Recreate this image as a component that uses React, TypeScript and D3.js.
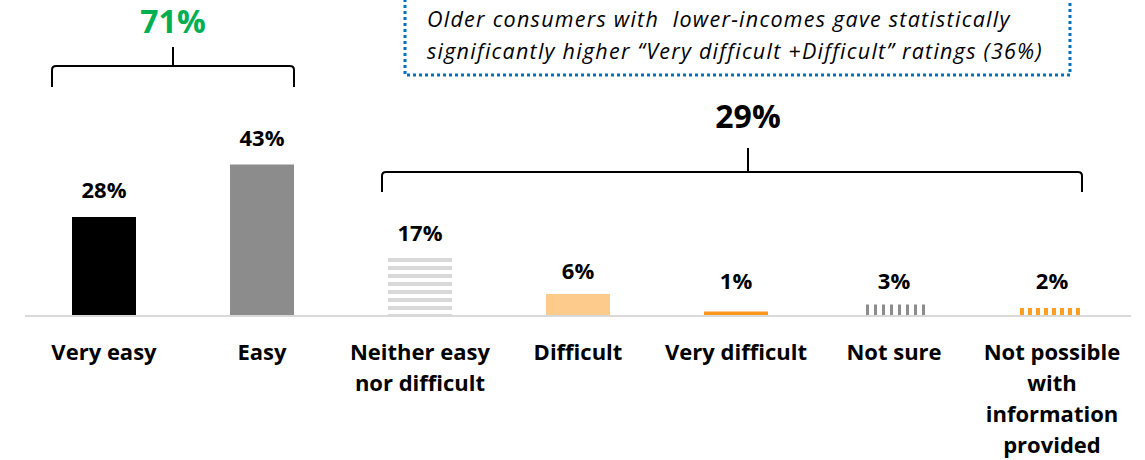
import { useMemo } from "react";
import * as d3 from "d3";

const categories = [
	"Very easy",
	"Easy",
	"Neither easy nor difficult",
	"Difficult",
	"Very difficult",
	"Not sure",
	"Not possible with information provided",
];
const categoryLines = [
	["Very easy"],
	["Easy"],
	["Neither easy", "nor difficult"],
	["Difficult"],
	["Very difficult"],
	["Not sure"],
	["Not possible", "with", "information", "provided"],
];
const values = [28, 43, 17, 6, 1, 3, 2];
const fills = [
	"#000000",
	"#8c8c8c",
	"url(#hstripe)",
	"#fdcb8c",
	"#f7981d",
	"url(#vstripeGray)",
	"url(#vstripeOrange)",
];
const groupLabels = ["71%", "29%"];
const groupFirst = [0, 2];
const groupLast = [1, 6];
const groupColors = ["#00b050", "#000000"];
const noteLines = [
	"Older consumers with  lower-incomes gave statistically",
	"significantly higher \u201cVery difficult +Difficult\u201d ratings (36%)",
];

const W = 1145;
const H = 460;
const FONT = "'Open Sans', Lato, sans-serif";

export default function App() {
	const x = useMemo(
		() =>
			d3
				.scaleBand<string>()
				.domain(categories)
				.range([25, 1131])
				.paddingInner(0.595)
				.paddingOuter(0.2975),
		[]
	);
	const y = useMemo(
		() => d3.scaleLinear().domain([0, 45]).range([315, 157.5]),
		[]
	);
	const bw = x.bandwidth();

	// bracket layout
	const brackets = [
		{ padL: 20, padR: 0, yLine: 66, drop: 21, stemTop: 47, stemDx: 0, labelY: 33 },
		{ padL: 6, padR: -2, yLine: 172, drop: 20, stemTop: 148, stemDx: 16, labelY: 128 },
	];

	const bracketPath = (l: number, r: number, yl: number, drop: number) => {
		const c = 4;
		return `M${l},${yl + drop}L${l},${yl + c}Q${l},${yl} ${l + c},${yl}L${r - c},${yl}Q${r},${yl} ${r},${yl + c}L${r},${yl + drop}`;
	};

	return (
		<div style={{ position: "absolute", left: 0, top: 0 }}>
			<svg width={W} height={H} style={{ display: "block", background: "#fff" }}>
				<defs>
					<pattern id="hstripe" patternUnits="userSpaceOnUse" width={8} height={8} y={2}>
						<rect x={0} y={0} width={8} height={4} fill="#d9d9d9" />
					</pattern>
					<pattern id="vstripeGray" patternUnits="userSpaceOnUse" width={8} height={8} x={2}>
						<rect x={0} y={0} width={3} height={8} fill="#8c8c8c" />
					</pattern>
					<pattern id="vstripeOrange" patternUnits="userSpaceOnUse" width={8} height={8} x={4}>
						<rect x={0} y={0} width={4} height={8} fill="#fca023" />
					</pattern>
				</defs>

				{/* note box */}
				<rect
					x={405}
					y={-10}
					width={665}
					height={85}
					fill="none"
					stroke="#0070c0"
					strokeWidth={3}
					strokeDasharray="3 3"
				/>
				{noteLines.map((t, i) => (
					<text
						key={i}
						x={427}
						y={27 + i * 32}
						fontFamily={FONT}
						fontStyle="italic"
						fontSize={21.5}
						letterSpacing={1.25}
						fill="#000"
						style={{ whiteSpace: "pre" }}
					>
						{t}
					</text>
				))}

				{/* brackets */}
				{groupLabels.map((lab, i) => {
					const b = brackets[i];
					const l = (x(categories[groupFirst[i]]) ?? 0) - b.padL;
					const r = (x(categories[groupLast[i]]) ?? 0) + bw + b.padR;
					const sx = (l + r) / 2 + b.stemDx;
					return (
						<g key={lab}>
							<path
								d={bracketPath(l, r, b.yLine, b.drop)}
								fill="none"
								stroke="#000"
								strokeWidth={2}
							/>
							<line x1={sx} x2={sx} y1={b.stemTop} y2={b.yLine} stroke="#000" strokeWidth={2} />
							<text
								x={sx}
								y={b.labelY}
								textAnchor="middle"
								fontFamily={FONT}
								fontWeight="bold"
								fontSize={32}
								fill={groupColors[i]}
							>
								{lab}
							</text>
						</g>
					);
				})}

				{/* bars */}
				{categories.map((c, i) => (
					<rect
						key={c}
						x={x(c)}
						y={y(values[i])}
						width={bw}
						height={y(0) - y(values[i])}
						fill={fills[i]}
					/>
				))}

				{/* axis line */}
				<line x1={25} x2={1131} y1={y(0) + 1} y2={y(0) + 1} stroke="#d9d9d9" strokeWidth={2} />

				{/* value labels */}
				{categories.map((c, i) => (
					<text
						key={c}
						x={(x(c) ?? 0) + bw / 2}
						y={Math.min(y(values[i]) - (i < 2 ? 19 : 15), 289)}
						textAnchor="middle"
						fontFamily={FONT}
						fontWeight="bold"
						fontSize={22}
						fill="#000"
					>
						{values[i]}%
					</text>
				))}

				{/* category labels */}
				{categories.map((c, i) => (
					<text
						key={c}
						textAnchor="middle"
						fontFamily={FONT}
						fontWeight="bold"
						fontSize={22}
						fill="#000"
					>
						{categoryLines[i].map((ln, j) => (
							<tspan key={j} x={(x(c) ?? 0) + bw / 2} y={360 + j * 31.1}>
								{ln}
							</tspan>
						))}
					</text>
				))}
			</svg>
		</div>
	);
}
